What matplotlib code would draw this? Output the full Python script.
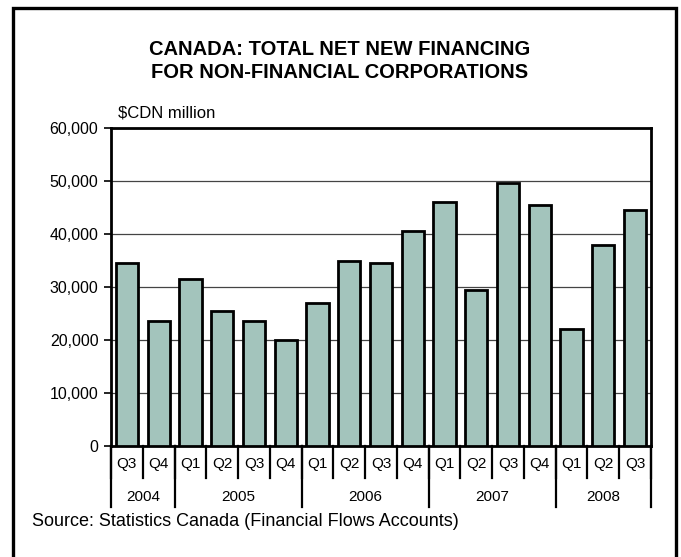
import matplotlib
matplotlib.use("Agg")
import matplotlib.pyplot as plt
from matplotlib.patches import Rectangle

plt.rcParams['font.family'] = ['Liberation Sans', 'DejaVu Sans']

# datos
trimestres = ["Q3", "Q4", "Q1", "Q2", "Q3", "Q4", "Q1", "Q2", "Q3", "Q4",
              "Q1", "Q2", "Q3", "Q4", "Q1", "Q2", "Q3"]
valores = [34500, 23500, 31500, 25500, 23500, 20000, 27000, 35000, 34500, 40500,
           46000, 29500, 49600, 45500, 22000, 38000, 44500]
anios = ["2004", "2005", "2006", "2007", "2008"]
trimestres_por_anio = [2, 4, 4, 4, 3]

W, H = 681, 557
fig = plt.figure(figsize=(W / 100, H / 100), dpi=100)

# marco exterior
fig.patches.append(Rectangle((13 / W, -0.02), (676 - 13) / W, 1.02 - 8 / H, transform=fig.transFigure,
                             fill=False, edgecolor='black', linewidth=2.4))

ax = fig.add_axes([111 / W, 1 - 446 / H, (651 - 111) / W, (446 - 128) / H])

x = list(range(len(valores)))
ax.bar(x, valores, width=0.7, color='#a3c4bc', edgecolor='black', linewidth=2, zorder=3)

ax.set_xlim(-0.5, len(valores) - 0.5)
ax.set_ylim(0, 60000)
ax.set_yticks(range(0, 60001, 10000))
ax.set_yticklabels([f"{v:,}" for v in range(0, 60001, 10000)], fontsize=11.5)
ax.yaxis.grid(True, color='#444444', linewidth=0.9, zorder=0)
ax.tick_params(axis='y', direction='out', length=5, width=1.2, pad=4)

for s in ['left', 'top', 'right', 'bottom']:
    ax.spines[s].set_linewidth(2)

# eje x con categorias en dos niveles
ax.set_xticks([])
trans = ax.get_xaxis_transform()
alto = 446 - 128
y_trim = -(478 - 446) / alto
y_anio = -(507 - 446) / alto
for i, t in enumerate(trimestres):
    ax.text(i, -(464 - 446) / alto, t, transform=trans, ha='center', va='center', fontsize=11)
for i in range(len(valores) + 1):
    ax.plot([i - 0.5, i - 0.5], [0, y_trim], transform=trans, color='black', linewidth=1.6, clip_on=False)

inicio = 0
for anio, n in zip(anios, trimestres_por_anio):
    ax.plot([inicio - 0.5, inicio - 0.5], [0, y_anio], transform=trans, color='black', linewidth=1.6, clip_on=False)
    ax.text(inicio + n / 2 - 0.5, -(497 - 446) / alto, anio, transform=trans, ha='center', va='center',
            fontsize=11)
    inicio += n
ax.plot([inicio - 0.5, inicio - 0.5], [0, y_anio], transform=trans, color='black', linewidth=1.6, clip_on=False)

fig.text(340 / W, 1 - 61 / H, "CANADA: TOTAL NET NEW FINANCING\nFOR NON-FINANCIAL CORPORATIONS",
         ha='center', va='center', fontsize=14.5, fontweight='bold', linespacing=1.3)
fig.text(118 / W, 1 - 113 / H, "$CDN million", ha='left', va='center', fontsize=12)
fig.text(32 / W, 1 - 522 / H, "Source: Statistics Canada (Financial Flows Accounts)", ha='left', va='center',
         fontsize=13)

fig.savefig("out.png", dpi=100)
